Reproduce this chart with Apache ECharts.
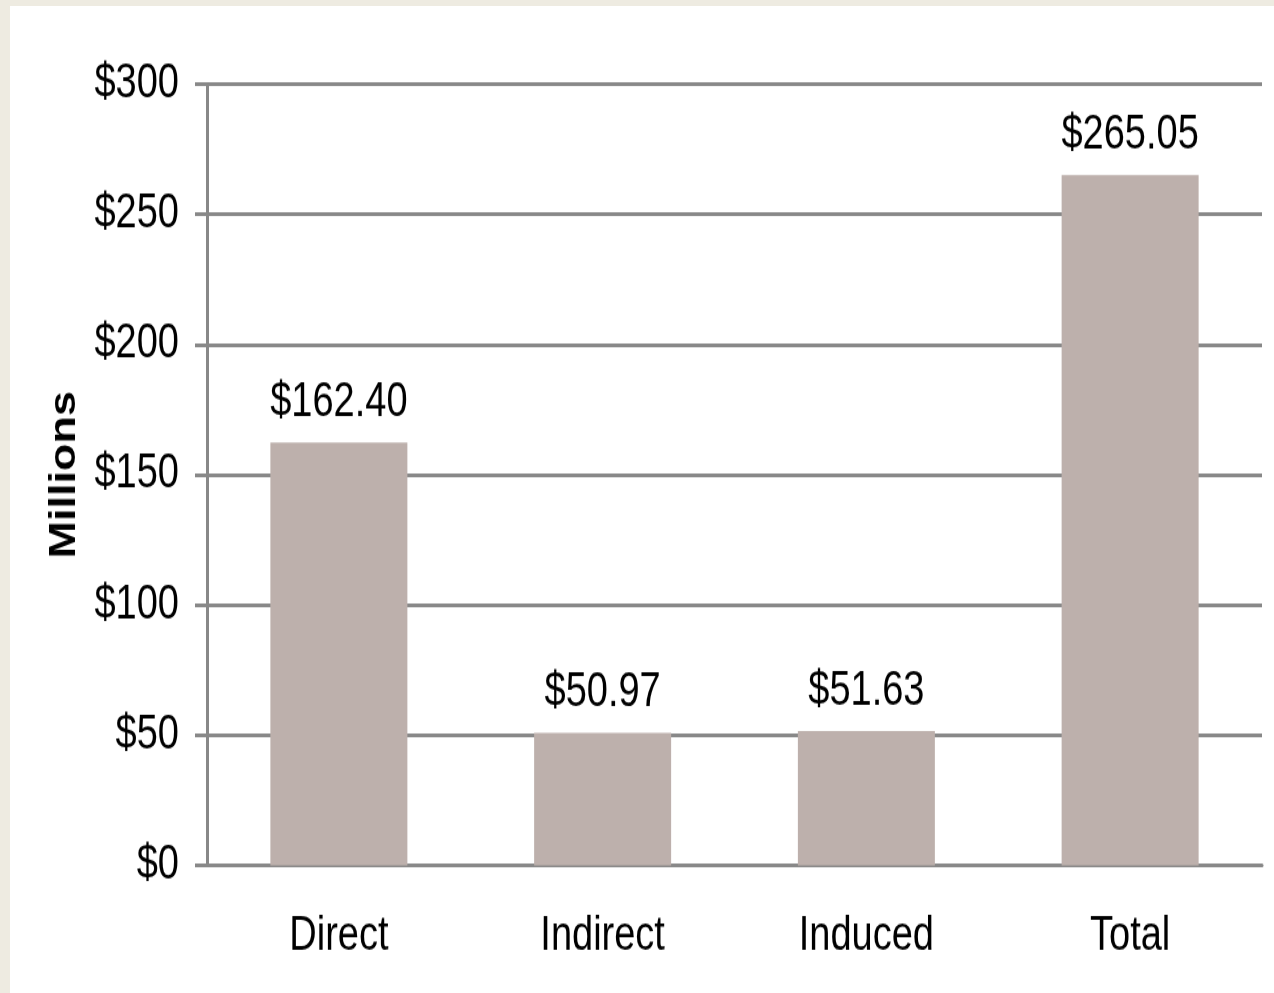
<!DOCTYPE html>
<html>
<head>
<meta charset="utf-8">
<title>Economic impact</title>
<script src="https://cdn.jsdelivr.net/npm/echarts@6/dist/echarts.min.js"></script>
<style>
    body { margin: 0; background: #EEEBE1; overflow: hidden; }
    #frame { position: absolute; left: 10px; top: 6px; width: 1264px; height: 987px; background: #fff; overflow: hidden; }
    /* the original picture is stretched vertically, so the chart is drawn shorter and scaled up */
    #chart { width: 1264px; height: 790px; transform: scaleY(1.25); transform-origin: 0 0; }
</style>
</head>
<body>
<div id="frame"><div id="chart"></div></div>
<script>
var categories = ['Direct', 'Indirect', 'Induced', 'Total'];
var impactValues = [162.40, 50.97, 51.63, 265.05];
var yTicks = [0, 50, 100, 150, 200, 250, 300];

var textFont = '"Liberation Sans", Arial, sans-serif';

var myChart = echarts.init(document.getElementById('chart'));
var option = {
    animation: false,
    grid: { left: 197, right: 12, top: 62.4, bottom: 102.4 },
    xAxis: {
        type: 'category',
        data: categories,
        axisLine: { lineStyle: { color: '#888888', width: 3 } },
        axisTick: { length: 10.4, lineStyle: { color: '#888888', width: 3 } },
        axisLabel: { color: '#000', fontFamily: textFont, fontSize: 38, margin: 38 }
    },
    yAxis: {
        type: 'value',
        min: yTicks[0],
        max: yTicks[yTicks.length - 1],
        interval: 50,
        name: 'Millions',
        nameLocation: 'middle',
        nameRotate: 90,
        nameGap: 124,
        nameTextStyle: { color: '#000', fontFamily: textFont, fontWeight: 'bold', fontSize: 36 },
        axisLine: { show: true, lineStyle: { color: '#888888', width: 3 } },
        axisTick: { show: true, length: 12, lineStyle: { color: '#888888', width: 3 } },
        splitLine: { lineStyle: { color: '#888888', width: 3 } },
        axisLabel: {
            color: '#000', fontFamily: textFont, fontSize: 38, margin: 28,
            formatter: function (v) { return '$' + v; }
        }
    },
    series: [{
        type: 'bar',
        data: impactValues,
        barWidth: 137,
        itemStyle: { color: '#BDB0AC' },
        label: {
            show: true,
            position: 'top',
            distance: 12.5,
            color: '#000',
            fontFamily: textFont,
            fontSize: 38,
            formatter: function (p) { return '$' + p.value.toFixed(2); }
        }
    }]
};
myChart.setOption(option);
</script>
</body>
</html>
